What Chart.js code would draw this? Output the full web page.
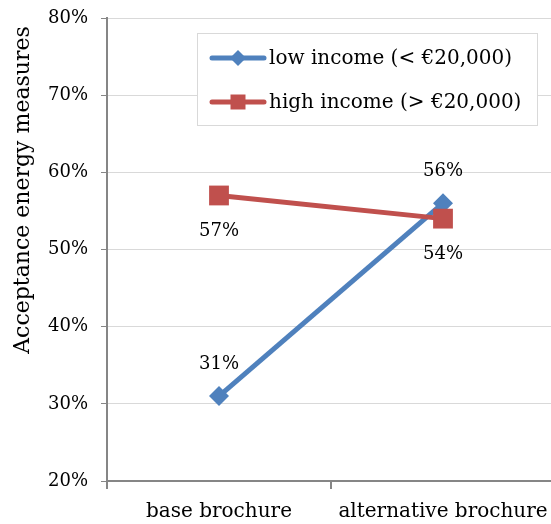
<!DOCTYPE html>
<html>
<head>
<meta charset="utf-8">
<script src="https://cdn.jsdelivr.net/npm/chart.js@4.4.1/dist/chart.umd.min.js"></script>
<style>
  html, body { margin: 0; padding: 0; background: #fff; }
  #frame { width: 551px; height: 524px; overflow: hidden; position: relative; }
  #chart { display: block; }
</style>
</head>
<body>
<div id="frame"><canvas id="chart" width="555" height="524"></canvas></div>
<script>
// Acceptance of energy measures by income group, per brochure type
const categories = ['base brochure', 'alternative brochure'];
const lowIncome = [31, 56];
const highIncome = [57, 54];
const seriesNames = ['low income (< €20,000)', 'high income (> €20,000)'];
const yTicks = [20, 30, 40, 50, 60, 70, 80];
const axisTitle = 'Acceptance energy measures';

const FONT = '"DejaVu Serif", serif';
const BLUE = '#4F81BD';
const RED = '#C0504D';

function drawMarker(ctx, style, x, y, size, color) {
  ctx.save();
  ctx.fillStyle = color;
  ctx.beginPath();
  if (style === 'rect') {
    ctx.rect(x - size / 2, y - size / 2, size, size);
  } else {
    ctx.moveTo(x, y - size / 2);
    ctx.lineTo(x + size / 2, y);
    ctx.lineTo(x, y + size / 2);
    ctx.lineTo(x - size / 2, y);
    ctx.closePath();
  }
  ctx.fill();
  ctx.restore();
}

// Percentage labels: low income above its points, high income below
const valueLabels = {
  id: 'valueLabels',
  afterDatasetsDraw(chart) {
    const ctx = chart.ctx;
    const shifts = [-32, 36];
    ctx.save();
    ctx.font = '18px ' + FONT;
    ctx.fillStyle = '#000';
    ctx.textAlign = 'center';
    ctx.textBaseline = 'middle';
    chart.data.datasets.forEach((ds, i) => {
      chart.getDatasetMeta(i).data.forEach((pt, j) => {
        ctx.fillText(ds.data[j] + '%', pt.x, pt.y + shifts[i]);
      });
    });
    ctx.restore();
  }
};

// Boxed legend inside the upper right of the plot
const boxedLegend = {
  id: 'boxedLegend',
  afterDraw(chart) {
    const ctx = chart.ctx;
    const bx = 197, by = 33, bw = 340, bh = 92;
    ctx.save();
    ctx.fillStyle = '#fff';
    ctx.fillRect(bx, by, bw, bh);
    ctx.strokeStyle = '#d9d9d9';
    ctx.lineWidth = 1;
    ctx.strokeRect(bx + 0.5, by + 0.5, bw, bh);
    chart.data.datasets.forEach((ds, i) => {
      const y = 58 + i * 44;
      ctx.strokeStyle = ds.borderColor;
      ctx.lineWidth = 5;
      ctx.lineCap = 'round';
      ctx.beginPath();
      ctx.moveTo(212, y);
      ctx.lineTo(264, y);
      ctx.stroke();
      drawMarker(ctx, ds.pointStyle, 238, y, ds.pointStyle === 'rect' ? 15 : 16, ds.backgroundColor);
      ctx.fillStyle = '#000';
      ctx.font = '20px ' + FONT;
      ctx.textAlign = 'left';
      ctx.textBaseline = 'middle';
      ctx.fillText(ds.label, 269, y + 1);
    });
    ctx.restore();
  }
};

// Rotated y axis title
const yTitle = {
  id: 'yTitle',
  afterDraw(chart) {
    const ctx = chart.ctx;
    ctx.save();
    ctx.translate(29, 190);
    ctx.rotate(-Math.PI / 2);
    ctx.font = '22px ' + FONT;
    ctx.fillStyle = '#000';
    ctx.textAlign = 'center';
    ctx.textBaseline = 'alphabetic';
    ctx.fillText(axisTitle, 0, 0);
    ctx.restore();
  }
};

new Chart(document.getElementById('chart'), {
  type: 'line',
  data: {
    labels: categories,
    datasets: [
      {
        label: seriesNames[0],
        data: lowIncome,
        borderColor: BLUE,
        backgroundColor: BLUE,
        borderWidth: 5,
        pointStyle: 'rectRot',
        pointRadius: 10,
        pointBorderWidth: 0,
        order: 1
      },
      {
        label: seriesNames[1],
        data: highIncome,
        borderColor: RED,
        backgroundColor: RED,
        borderWidth: 5,
        pointStyle: 'rect',
        pointRadius: 14,
        pointBorderWidth: 0,
        order: 0
      }
    ]
  },
  options: {
    responsive: false,
    animation: false,
    layout: { autoPadding: false, padding: { top: 18, right: 0, bottom: 0, left: 0 } },
    plugins: { legend: { display: false }, tooltip: { enabled: false } },
    elements: { line: { tension: 0 } },
    scales: {
      x: {
        type: 'category',
        offset: true,
        afterFit: s => { s.height = 43; s.paddingLeft = 0; s.paddingRight = 0; },
        grid: {
          offset: true,
          drawOnChartArea: false,
          drawTicks: true,
          tickLength: 8,
          tickColor: '#868686',
          lineWidth: 2
        },
        border: { color: '#868686', width: 2 },
        ticks: { color: '#000', font: { family: FONT, size: 20 }, padding: 11 }
      },
      y: {
        min: yTicks[0],
        max: yTicks[yTicks.length - 1],
        afterFit: s => { s.width = 107; s.paddingTop = 0; s.paddingBottom = 0; },
        afterBuildTicks: s => { s.ticks = yTicks.map(v => ({ value: v })); },
        grid: {
          color: '#d9d9d9',
          lineWidth: 1,
          tickLength: 6,
          tickColor: '#868686'
        },
        border: { color: '#868686', width: 2 },
        ticks: {
          color: '#000',
          font: { family: FONT, size: 18 },
          padding: 13,
          callback: v => v + '%'
        }
      }
    }
  },
  plugins: [valueLabels, boxedLegend, yTitle]
});
</script>
</body>
</html>
